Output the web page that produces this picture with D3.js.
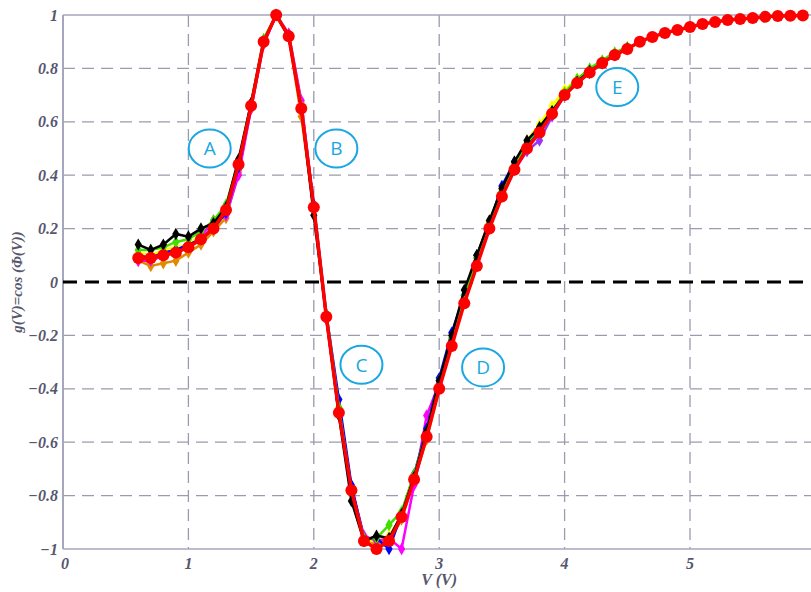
<!DOCTYPE html>
<html><head><meta charset="utf-8">
<script src="https://cdn.jsdelivr.net/npm/d3@7"></script>
<style>html,body{margin:0;padding:0;background:#fff;overflow:hidden}</style>
</head><body>
<svg id="c" width="811" height="592"></svg>
<script>
const xRed = [0.6,0.7,0.8,0.9,1.0,1.1,1.2,1.3,1.4,1.5,1.6,1.7,1.8,1.9,2.0,2.1,2.2,2.3,2.4,2.5,2.6,2.7,2.8,2.9,3.0,3.1,3.2,3.3,3.4,3.5,3.6,3.7,3.8,3.9,4.0,4.1,4.2,4.3,4.4,4.5,4.6,4.7,4.8,4.9,5.0,5.1,5.2,5.3,5.4,5.5,5.6,5.7,5.8,5.9];
const red = [0.09,0.09,0.10,0.11,0.13,0.16,0.20,0.27,0.44,0.66,0.90,1.00,0.92,0.65,0.28,-0.13,-0.49,-0.78,-0.97,-1.00,-0.97,-0.88,-0.74,-0.58,-0.40,-0.24,-0.08,0.06,0.20,0.32,0.42,0.50,0.56,0.63,0.70,0.745,0.785,0.82,0.85,0.873,0.90,0.918,0.933,0.944,0.955,0.966,0.974,0.981,0.985,0.989,0.993,0.996,0.997,0.998];
const xOther = [0.6,0.7,0.8,0.9,1.0,1.1,1.2,1.3,1.4,1.5,1.6,1.7,1.8,1.9,2.0,2.1,2.2,2.3,2.4,2.5,2.6,2.7,2.8,2.9,3.0,3.1,3.2,3.3,3.4,3.5,3.6,3.7,3.8,3.9,4.0,4.1,4.2,4.3,4.4,4.5];
const black   = [0.14,0.12,0.14,0.18,0.17,0.20,0.22,0.28,0.46,0.67,0.90,1.00,0.92,0.65,0.25,-0.13,-0.50,-0.82,-0.97,-0.95,-0.96,-0.87,-0.73,-0.56,-0.37,-0.20,-0.03,0.10,0.23,0.35,0.45,0.53,0.58,0.64,0.70,0.75,0.79,0.82,0.85,0.875];
const green   = [0.12,0.12,0.13,0.15,0.16,0.19,0.23,0.29,0.45,0.67,0.91,1.00,0.92,0.66,0.27,-0.12,-0.47,-0.78,-0.96,-0.96,-0.91,-0.86,-0.72,-0.56,-0.37,-0.21,-0.05,0.09,0.22,0.34,0.44,0.52,0.58,0.64,0.71,0.76,0.80,0.83,0.86,0.88];
const blue    = [0.10,0.09,0.11,0.12,0.14,0.16,0.20,0.26,0.43,0.66,0.90,1.00,0.92,0.65,0.29,-0.12,-0.44,-0.76,-0.96,-0.96,-1.00,-0.87,-0.72,-0.55,-0.36,-0.19,-0.05,0.10,0.22,0.36,0.45,0.51,0.57,0.63,0.70,0.75,0.785,0.82,0.85,0.873];
const magenta = [0.08,0.08,0.10,0.12,0.13,0.17,0.23,0.25,0.40,0.65,0.89,1.00,0.93,0.68,0.28,-0.14,-0.48,-0.77,-0.95,-0.97,-0.96,-1.00,-0.76,-0.50,-0.38,-0.23,-0.06,0.08,0.21,0.33,0.42,0.50,0.56,0.63,0.70,0.745,0.785,0.82,0.85,0.873];
const yellow  = [0.11,0.10,0.12,0.13,0.14,0.18,0.22,0.27,0.43,0.66,0.90,1.00,0.93,0.67,0.28,-0.13,-0.47,-0.79,-0.97,-0.97,-0.95,-0.88,-0.73,-0.58,-0.39,-0.22,-0.07,0.10,0.23,0.35,0.44,0.53,0.59,0.66,0.72,0.76,0.79,0.82,0.85,0.874];
const orange  = [0.08,0.06,0.07,0.08,0.11,0.14,0.19,0.24,0.41,0.65,0.89,1.00,0.92,0.62,0.27,-0.14,-0.49,-0.79,-0.97,-0.98,-0.97,-0.89,-0.74,-0.59,-0.40,-0.22,-0.06,0.09,0.22,0.33,0.43,0.50,0.56,0.63,0.70,0.745,0.785,0.82,0.85,0.873];
const purple  = [0.09,0.08,0.10,0.11,0.13,0.16,0.21,0.26,0.42,0.65,0.90,1.00,0.93,0.67,0.28,-0.13,-0.48,-0.78,-0.96,-0.98,-0.97,-0.88,-0.75,-0.58,-0.39,-0.23,-0.07,0.07,0.20,0.32,0.42,0.49,0.53,0.62,0.70,0.745,0.785,0.82,0.85,0.873];
const xTicks = [0,1,2,3,4,5];
const yTicks = [-1,-0.8,-0.6,-0.4,-0.2,0,0.2,0.4,0.6,0.8,1];
const annotations = [{t:"A",x:1.17,y:0.50},{t:"B",x:2.18,y:0.50},{t:"C",x:2.38,y:-0.31},{t:"D",x:3.35,y:-0.32},{t:"E",x:4.42,y:0.73}];

const svg = d3.select("#c");
const L = 63, T = 15, B = 549, R = 63 + 6*125.4;
const x = d3.scaleLinear().domain([0,6]).range([L,R]);
const y = d3.scaleLinear().domain([-1,1]).range([B,T]);
const axisCol = "#a6a6bc", gridCol = "#9a9ab0", txtCol = "#56566e";
const font = "'Liberation Serif','DejaVu Serif',serif";

svg.append("g").selectAll("line").data(xTicks.filter(d=>d>0)).join("line")
  .attr("x1",d=>x(d)).attr("x2",d=>x(d)).attr("y1",T).attr("y2",B)
  .attr("stroke",gridCol).attr("stroke-width",1.3).attr("stroke-dasharray","12,7");
svg.append("g").selectAll("line").data(yTicks.filter(d=>d!==0 && Math.abs(d)!==1)).join("line")
  .attr("x1",L).attr("x2",R).attr("y1",d=>y(d)).attr("y2",d=>y(d))
  .attr("stroke",gridCol).attr("stroke-width",1.3).attr("stroke-dasharray","12,7");
svg.append("line").attr("x1",L).attr("x2",R).attr("y1",T).attr("y2",T).attr("stroke",axisCol).attr("stroke-width",1.5);
svg.append("line").attr("x1",L).attr("x2",R).attr("y1",B).attr("y2",B).attr("stroke",axisCol).attr("stroke-width",1.5);
svg.append("line").attr("x1",L).attr("x2",L).attr("y1",T).attr("y2",B).attr("stroke",axisCol).attr("stroke-width",2);
svg.append("line").attr("x1",L).attr("x2",R).attr("y1",y(0)).attr("y2",y(0))
  .attr("stroke","#000").attr("stroke-width",3).attr("stroke-dasharray","14,8");

svg.append("g").selectAll("text").data(yTicks).join("text")
  .attr("x",L-5).attr("y",d=>y(d)).attr("dy","0.35em").attr("text-anchor","end")
  .attr("font-family",font).attr("font-style","italic").attr("font-weight","bold")
  .attr("font-size",16).attr("fill",txtCol).text(d=>d3.format("")(d));
svg.append("g").selectAll("text").data(xTicks).join("text")
  .attr("x",d=>x(d)+(d===0?2:0)).attr("y",B+20).attr("text-anchor","middle")
  .attr("font-family",font).attr("font-style","italic").attr("font-weight","bold")
  .attr("font-size",16).attr("fill",txtCol).text(d=>d);
svg.append("text").attr("x",x(3)).attr("y",B+36).attr("text-anchor","middle")
  .attr("font-family",font).attr("font-style","italic").attr("font-weight","bold")
  .attr("font-size",16).attr("fill",txtCol).text("V (V)");
svg.append("text").attr("transform",`translate(22,${y(0)}) rotate(-90)`).attr("text-anchor","middle")
  .attr("font-family",font).attr("font-style","italic").attr("font-weight","bold")
  .attr("font-size",15).attr("fill",txtCol).text("g(V)=cos (\u03A6(V))");

const line = d3.line().x(d=>x(d[0])).y(d=>y(d[1]));
const others = [
  {c:"#9933ff", v:purple},{c:"#e08a00", v:orange},{c:"#ffff00", v:yellow},
  {c:"#ff00ff", v:magenta},{c:"#0000ff", v:blue},{c:"#44dd00", v:green},{c:"#000000", v:black}
];
const diamond = d3.symbol().type(d3.symbolDiamond).size(45);
others.forEach(s=>{
  const pts = xOther.map((xv,i)=>[xv,s.v[i]]);
  svg.append("path").datum(pts).attr("d",line).attr("fill","none").attr("stroke",s.c).attr("stroke-width",2.5);
  svg.append("g").selectAll("path").data(pts).join("path")
    .attr("d",diamond).attr("transform",d=>`translate(${x(d[0])},${y(d[1])})`).attr("fill",s.c);
});
const redPts = xRed.map((xv,i)=>[xv,red[i]]);
svg.append("path").datum(redPts).attr("d",line).attr("fill","none").attr("stroke","#ff0000").attr("stroke-width",3.5);
svg.append("g").selectAll("circle").data(redPts).join("circle")
  .attr("cx",d=>x(d[0])).attr("cy",d=>y(d[1])).attr("r",6).attr("fill","#ff0000");

const ann = svg.append("g").selectAll("g").data(annotations).join("g")
  .attr("transform",d=>`translate(${x(d.x)},${y(d.y)})`);
ann.append("ellipse").attr("rx",21).attr("ry",19).attr("fill","#fff").attr("stroke","#1aa7e2").attr("stroke-width",2);
ann.append("text").attr("text-anchor","middle").attr("dy","0.36em")
  .attr("font-family","'Open Sans','DejaVu Sans',sans-serif").attr("font-size",19).attr("fill","#1aa7e2").text(d=>d.t);
</script>
</body></html>
